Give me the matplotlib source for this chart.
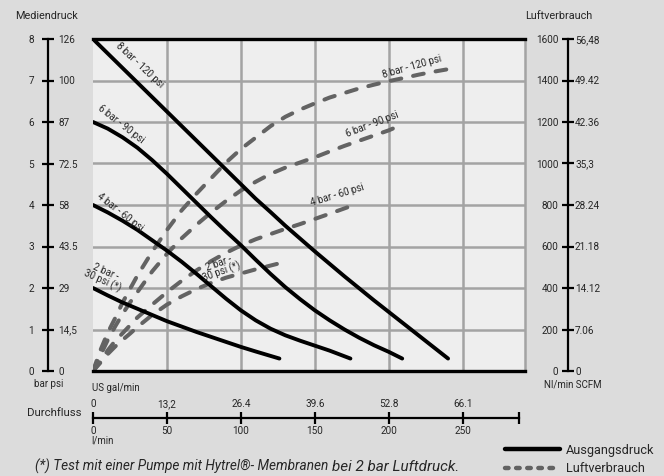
import matplotlib
matplotlib.use('Agg')
import matplotlib.pyplot as plt
from matplotlib import font_manager
from matplotlib.lines import Line2D

names = {f.name for f in font_manager.fontManager.ttflist}
FONT = 'Liberation Sans Narrow' if 'Liberation Sans Narrow' in names else 'Roboto'
plt.rcParams['font.family'] = [FONT, 'DejaVu Sans']

# ---------------- data ----------------
# Ausgangsdruck (bar) vs Durchfluss (l/min)
flow_p8 = [0, 10, 20, 30, 40, 50, 60, 70, 80, 90, 100, 110, 120, 130, 140, 150,
           160, 170, 180, 190, 200, 210, 220, 230, 240]
pres_8 = [8.0, 7.65, 7.30, 6.95, 6.60, 6.25, 5.90, 5.55, 5.20, 4.85, 4.50, 4.15,
          3.83, 3.50, 3.19, 2.88, 2.58, 2.28, 1.99, 1.70, 1.42, 1.14, 0.86, 0.58, 0.30]
flow_p6 = [0, 10, 20, 30, 40, 50, 60, 70, 80, 90, 100, 110, 120, 130, 140, 150,
           160, 170, 180, 190, 200, 209]
pres_6 = [6.0, 5.84, 5.63, 5.38, 5.08, 4.75, 4.40, 4.05, 3.70, 3.36, 3.03, 2.68,
          2.34, 2.02, 1.73, 1.46, 1.22, 1.0, 0.80, 0.62, 0.46, 0.30]
flow_p4 = [0, 10, 20, 30, 40, 50, 60, 70, 80, 90, 100, 110, 120, 130, 140, 150, 160, 174]
pres_4 = [4.0, 3.82, 3.62, 3.40, 3.15, 2.90, 2.63, 2.34, 2.04, 1.74, 1.46, 1.22,
          1.02, 0.86, 0.73, 0.61, 0.49, 0.30]
flow_p2 = [0, 10, 20, 30, 40, 50, 60, 70, 80, 90, 100, 110, 126]
pres_2 = [2.0, 1.82, 1.65, 1.50, 1.35, 1.20, 1.07, 0.94, 0.82, 0.70, 0.58, 0.47, 0.30]

# Luftverbrauch (Nl/min) vs Durchfluss (l/min)
flow_a8 = [0, 5, 10, 15, 20, 25, 30, 40, 50, 60, 70, 80, 90, 100, 110, 120, 130,
           140, 150, 160, 170, 180, 190, 200, 210, 220, 230, 242]
air_8 = [0, 100, 185, 255, 330, 395, 460, 575, 680, 775, 855, 930, 1005, 1070, 1125,
         1180, 1225, 1260, 1290, 1318, 1340, 1362, 1380, 1397, 1412, 1428, 1442, 1457]
flow_a6 = [0, 5, 10, 15, 20, 25, 30, 40, 50, 60, 70, 80, 90, 100, 110, 120, 130,
           140, 150, 160, 170, 180, 190, 200, 209]
air_6 = [0, 75, 150, 215, 275, 330, 380, 480, 565, 640, 705, 765, 820, 870, 912,
         950, 980, 1005, 1030, 1058, 1085, 1110, 1135, 1160, 1188]
flow_a4 = [0, 5, 10, 15, 20, 25, 30, 40, 50, 60, 70, 80, 90, 100, 110, 120, 130,
           140, 150, 160, 174]
air_4 = [0, 45, 100, 145, 182, 220, 258, 320, 380, 435, 485, 530, 570, 605, 635,
         660, 685, 708, 733, 758, 794]
flow_a2 = [0, 5, 10, 15, 20, 25, 30, 40, 50, 60, 70, 80, 90, 100, 110, 126]
air_2 = [0, 40, 82, 118, 150, 180, 212, 270, 320, 360, 395, 425, 450, 470, 490, 519]

bar_ticks = [0, 1, 2, 3, 4, 5, 6, 7, 8]
psi_labels = ['0', '14,5', '29', '43.5', '58', '72.5', '87', '100', '126']
nl_ticks = [0, 200, 400, 600, 800, 1000, 1200, 1400, 1600]
scfm_labels = ['0', '7.06', '14.12', '21.18', '28.24', '35,3', '42.36', '49.42', '56,48']
lmin_ticks = [0, 50, 100, 150, 200, 250]
gal_labels = ['0', '13,2', '26.4', '39.6', '52.8', '66.1']

curve_names = ['8 bar - 120 psi', '6 bar - 90 psi', '4 bar - 60 psi', '2 bar -\n30 psi (*)']

# ---------------- figure ----------------
W, H = 664, 476
fig = plt.figure(figsize=(W / 100, H / 100), dpi=100)
fig.patch.set_facecolor('#dcdcdc')
TXT = '#262626'
TICK_FS = 7.2


def fx(px):
    return px / W


def fy(py):
    return 1 - py / H


rect = [fx(93), fy(371), 432 / W, 332 / H]
XMAX = 292

# air consumption axes (bottom layer, holds background + grid)
ax_air = fig.add_axes(rect, label='air')
ax_air.set_facecolor('#eeeeee')
ax_air.set_xlim(0, XMAX)
ax_air.set_ylim(0, 1600)
ax_air.set_xticks([50, 100, 150, 200, 250])
ax_air.set_yticks([200, 400, 600, 800, 1000, 1200, 1400])
ax_air.set_axisbelow(True)
ax_air.grid(True, color='#a3a3a3', lw=1.8)
ax_air.tick_params(length=0, labelbottom=False, labelleft=False)
for s in ax_air.spines.values():
    s.set_visible(False)

dash_kw = dict(color='#636363', lw=2.9, dashes=(2.7, 3.0), dash_capstyle='round')
ax_air.plot(flow_a8, air_8, **dash_kw)
ax_air.plot(flow_a6, air_6, **dash_kw)
ax_air.plot(flow_a4, air_4, **dash_kw)
ax_air.plot(flow_a2, air_2, **dash_kw)

# pressure axes (top layer)
ax_p = fig.add_axes(rect, label='pres')
ax_p.patch.set_visible(False)
ax_p.set_xlim(0, XMAX)
ax_p.set_ylim(0, 8)
ax_p.set_xticks([])
ax_p.set_yticks([])
ax_p.spines['left'].set_visible(False)
ax_p.spines['top'].set_color('black')
ax_p.spines['top'].set_linewidth(2.4)
ax_p.spines['bottom'].set_color('black')
ax_p.spines['bottom'].set_linewidth(2.4)
ax_p.spines['right'].set_color('#a3a3a3')
ax_p.spines['right'].set_linewidth(1.8)

sol_kw = dict(color='black', lw=2.8, solid_capstyle='round', solid_joinstyle='round')
ax_p.plot(flow_p8, pres_8, **sol_kw)
ax_p.plot(flow_p6, pres_6, **sol_kw)
ax_p.plot(flow_p4, pres_4, **sol_kw)
ax_p.plot(flow_p2, pres_2, **sol_kw)

lab_kw = dict(ha='center', va='center', rotation_mode='anchor', fontsize=7,
              color=TXT, linespacing=0.85)
# labels on pressure curves
ax_p.text(31.8, 7.36, curve_names[0], rotation=-43, **lab_kw)
ax_p.text(18.9, 5.94, curve_names[1], rotation=-38, **lab_kw)
ax_p.text(18.2, 3.82, curve_names[2], rotation=-38, **lab_kw)
ax_p.text(7.5, 2.27, curve_names[3], rotation=-24, **lab_kw)
# labels on air curves
ax_p.text(215.5, 7.33, curve_names[0], rotation=16, **lab_kw)
ax_p.text(188.5, 5.94, curve_names[1], rotation=21, **lab_kw)
ax_p.text(164.9, 4.23, curve_names[2], rotation=17, **lab_kw)
ax_p.text(86.0, 2.48, curve_names[3], rotation=20, **lab_kw)

# ---------------- left scale ----------------
axl = fig.add_axes([fx(48), fy(371), 0.0001, 332 / H], label='left')
axl.patch.set_visible(False)
axl.set_ylim(0, 8)
axl.xaxis.set_visible(False)
for k in ['right', 'top', 'bottom']:
    axl.spines[k].set_visible(False)
axl.spines['left'].set_linewidth(1.6)
axl.set_yticks(bar_ticks)
axl.set_yticklabels([str(b) for b in bar_ticks])
axl.tick_params(axis='y', direction='inout', length=8, width=1.6, pad=6,
                labelsize=TICK_FS, labelcolor=TXT)
axl2 = axl.twinx()
axl2.set_ylim(0, 8)
axl2.set_yticks(bar_ticks)
axl2.set_yticklabels(psi_labels)
axl2.tick_params(axis='y', length=0, pad=7.4, labelsize=TICK_FS, labelcolor=TXT)
for s in axl2.spines.values():
    s.set_visible(False)

# ---------------- right scale ----------------
axr = fig.add_axes([fx(568), fy(371), 0.0001, 332 / H], label='right')
axr.patch.set_visible(False)
axr.set_ylim(0, 1600)
axr.xaxis.set_visible(False)
for k in ['right', 'top', 'bottom']:
    axr.spines[k].set_visible(False)
axr.spines['left'].set_linewidth(1.6)
axr.set_yticks(nl_ticks)
axr.set_yticklabels([str(v) for v in nl_ticks])
axr.tick_params(axis='y', direction='inout', length=8, width=1.6, pad=3,
                labelsize=TICK_FS, labelcolor=TXT)
axr2 = axr.twinx()
axr2.set_ylim(0, 1600)
axr2.set_yticks(nl_ticks)
axr2.set_yticklabels(scfm_labels)
axr2.tick_params(axis='y', length=0, pad=5, labelsize=TICK_FS, labelcolor=TXT)
for s in axr2.spines.values():
    s.set_visible(False)

# ---------------- bottom flow scale ----------------
axb = fig.add_axes([fx(93), fy(418), 426 / W, 0.0001], label='flow')
axb.patch.set_visible(False)
axb.set_xlim(0, 288)
axb.yaxis.set_visible(False)
for k in ['left', 'right', 'top']:
    axb.spines[k].set_visible(False)
axb.spines['bottom'].set_linewidth(1.6)
axb.set_xticks(lmin_ticks + [288])
axb.set_xticklabels([str(v) for v in lmin_ticks] + [''])
axb.tick_params(axis='x', direction='inout', length=8, width=1.6, pad=2,
                labelsize=TICK_FS, labelcolor=TXT)
axb2 = axb.twiny()
axb2.set_xlim(0, 288)
axb2.set_xticks(lmin_ticks)
axb2.set_xticklabels(gal_labels)
axb2.tick_params(axis='x', length=0, pad=6.5, labelsize=TICK_FS, labelcolor=TXT)
for s in axb2.spines.values():
    s.set_visible(False)

# ---------------- axis titles ----------------
fig.text(fx(15), fy(16), 'Mediendruck', ha='left', va='center', fontsize=7.8, color=TXT)
fig.text(fx(525), fy(16), 'Luftverbrauch', ha='left', va='center', fontsize=7.8, color=TXT)
fig.text(fx(49), fy(384), 'bar psi', ha='center', va='center', fontsize=7, color=TXT)
fig.text(fx(573), fy(384), 'Nl/min SCFM', ha='center', va='center', fontsize=7, color=TXT)
fig.text(fx(92), fy(388), 'US gal/min', ha='left', va='center', fontsize=7, color=TXT)
fig.text(fx(82), fy(413), 'Durchfluss', ha='right', va='center', fontsize=8.2, color=TXT)
fig.text(fx(91), fy(441), 'l/min', ha='left', va='center', fontsize=7, color=TXT)

# ---------------- footnote ----------------
t1 = fig.text(fx(35), fy(471), '(*) Test mit einer Pumpe mit Hytrel\u00ae- Membranen ',
              ha='left', va='baseline', fontsize=9.8, style='italic', color=TXT)
renderer = fig.canvas.get_renderer()
bb = t1.get_window_extent(renderer)
fig.text(bb.x1 / W, fy(471), 'bei 2 bar Luftdruck.', ha='left', va='baseline',
         fontsize=11, style='italic', color=TXT)

# ---------------- legend ----------------
handles = [Line2D([], [], color='black', lw=3.2, solid_capstyle='round'),
           Line2D([], [], color='#636363', lw=3.2, dashes=(0.8, 1.7), dash_capstyle='round')]
fig.legend(handles, ['Ausgangsdruck', 'Luftverbrauch'], loc='center left',
           bbox_to_anchor=(fx(505), fy(459.5)), frameon=False, fontsize=9.2,
           handlelength=4.3, handletextpad=0.5, labelspacing=0.4, borderpad=0,
           borderaxespad=0, labelcolor=TXT)

fig.savefig('out.png', dpi=100, facecolor=fig.get_facecolor())
